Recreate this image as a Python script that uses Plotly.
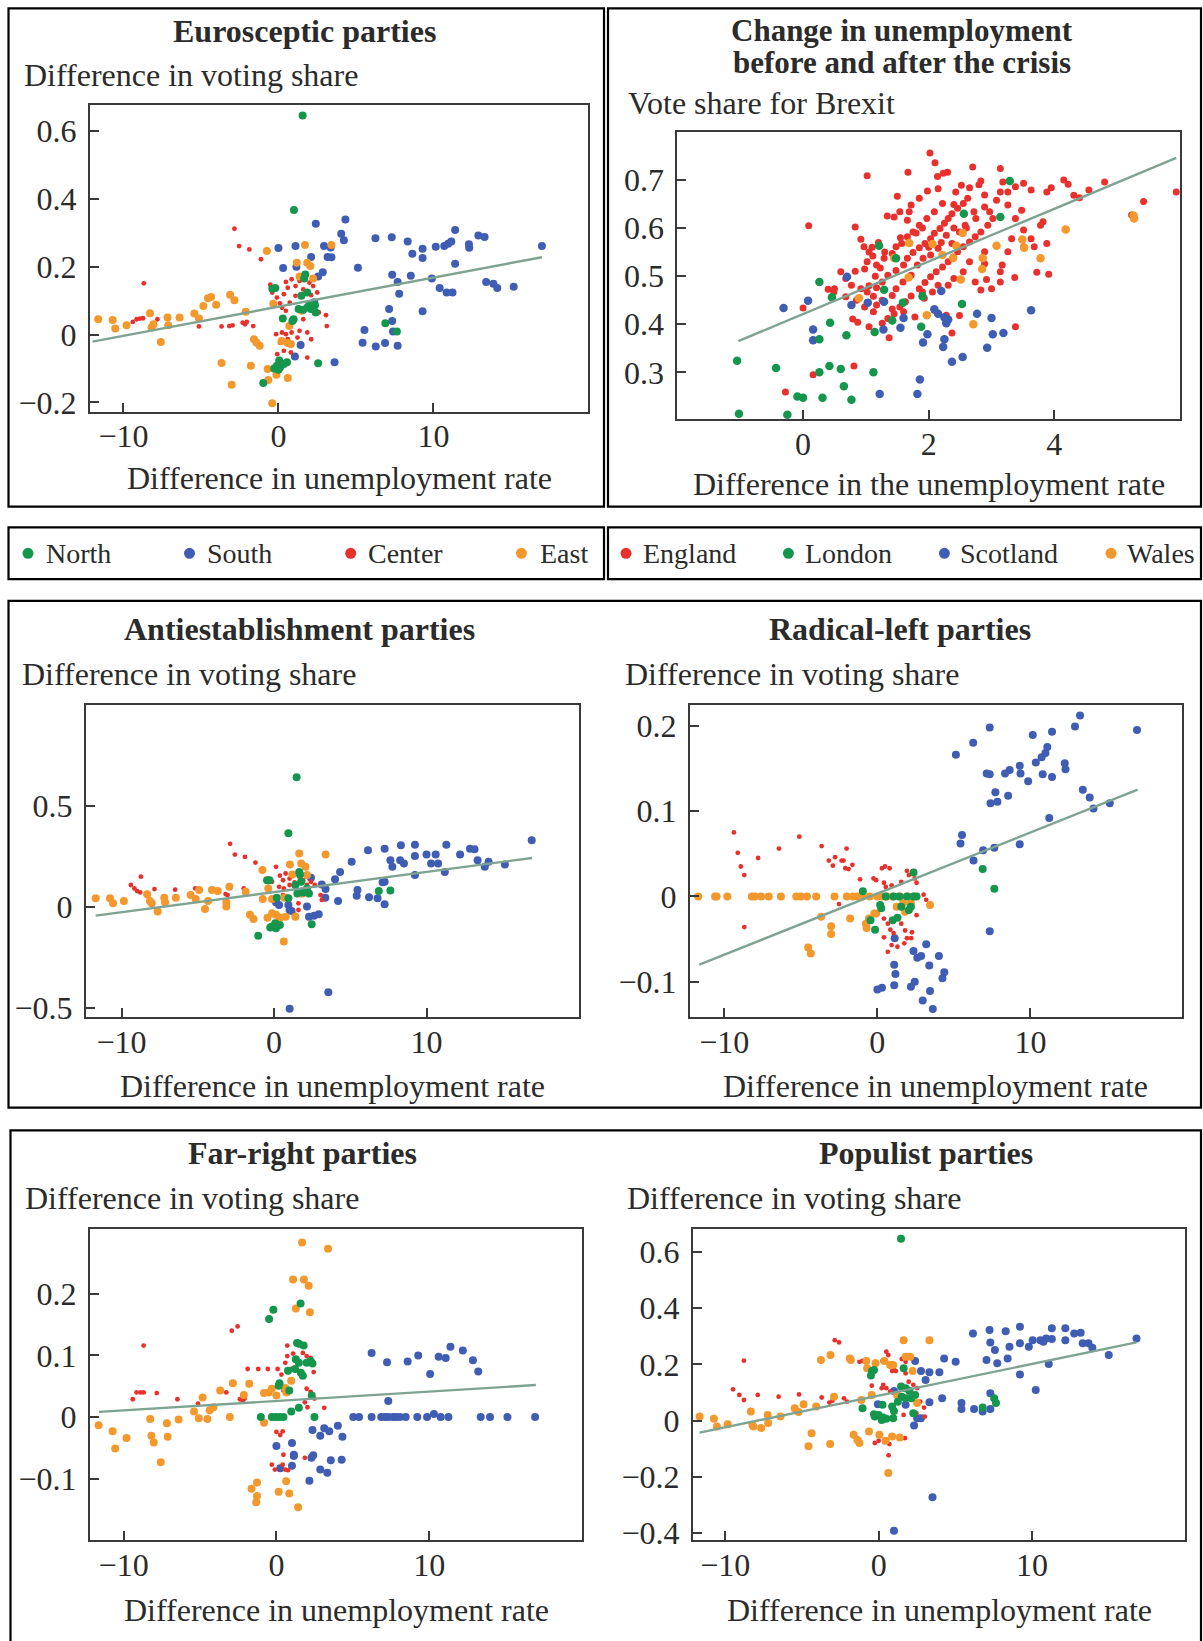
import plotly.graph_objects as go

W, H = 1203, 1641

# ---------------- colours ----------------
GREEN = "#14964c"
BLUE = "#3f5db3"
RED = "#e8302c"
ORANGE = "#f3982c"
LINE = "#7fa392"

# ---------------- tick labels ----------------
x_ticks_main = [-10, 0, 10]
x_ticklabels_main = ["\u221210", "0", "10"]
euro_yticks = [-0.2, 0, 0.2, 0.4, 0.6]
euro_yticklabels = ["\u22120.2", "0", "0.2", "0.4", "0.6"]
brexit_xticks = [0, 2, 4]
brexit_xticklabels = ["0", "2", "4"]
brexit_yticks = [0.3, 0.4, 0.5, 0.6, 0.7]
brexit_yticklabels = ["0.3", "0.4", "0.5", "0.6", "0.7"]
anti_yticks = [-0.5, 0, 0.5]
anti_yticklabels = ["\u22120.5", "0", "0.5"]
radical_yticks = [-0.1, 0, 0.1, 0.2]
radical_yticklabels = ["\u22120.1", "0", "0.1", "0.2"]
far_yticks = [-0.1, 0, 0.1, 0.2]
far_yticklabels = ["\u22120.1", "0", "0.1", "0.2"]
pop_yticks = [-0.4, -0.2, 0, 0.2, 0.4, 0.6]
pop_yticklabels = ["\u22120.4", "\u22120.2", "0", "0.2", "0.4", "0.6"]

# ---------------- Eurosceptic parties ----------------
euro_north = [(1.56,0.646),(1.0,0.367),(-0.4,0.135),(-0.2,0.137),(1.73,0.177),(1.66,0.165),(1.86,0.124),(1.48,0.114),
    (1.3,0.075),(1.6,0.073),(2.0,0.089),(2.36,0.086),(2.1,0.075),(1.86,0.08),(2.4,0.065),(0.28,0.047),(0.98,0.045),(0.9,0.04),
    (6.9,0.033),(7.64,0.009),(0.05,-0.077),(-0.1,-0.092),(-0.28,-0.1),(0.1,-0.097),(0.35,-0.087),(0.55,-0.082),(0.0,-0.104),
    (2.56,-0.085),(-0.98,-0.143)]
euro_south = [(0,0.255),(1.1,0.261),(2.41,0.327),(2.94,0.261),(3.37,0.257),(4.32,0.339),(4.05,0.297),(4.22,0.278),(3.17,0.229),
    (3.42,0.228),(2.11,0.229),(0.3,0.196),(1.16,0.2),(2.86,0.184),(2.56,0.171),(5.13,0.197),(6.26,0.284),(7.31,0.287),(8.34,0.274),
    (9.3,0.253),(8.64,0.238),(9.3,0.226),(7.34,0.176),(8.54,0.173),(7.69,0.155),(7.79,0.12),(7.14,0.075),(7.34,0.04),(9.3,0.069),
    (9.9,0.165),(10.15,0.259),(10.7,0.261),(10.95,0.268),(11.15,0.274),(11.4,0.308),(11.4,0.209),(10.4,0.137),(10.85,0.124),
    (11.23,0.124),(12.29,0.266),(12.31,0.256),(12.9,0.292),(13.3,0.288),(13.4,0.155),(13.87,0.15),(14.12,0.137),(15.18,0.141),
    (17.0,0.261),(5.55,0.013),(7.39,0.009),(5.43,-0.024),(6.28,-0.035),(6.88,-0.025),(7.69,-0.033),(1.06,-0.065),(1.43,-0.031),
    (3.62,-0.082),(2.31,0.095)]
euro_center = [(-2.84,0.312),(-2.54,0.261),(-1.88,0.251),(-1.13,0.222),(-8.69,0.151),(-9.15,0.045),(-8.94,0.047),(-8.74,0.048),
    (-9.4,0.037),(-7.81,0.045),(-5.13,0.024),(-3.67,0.024),(-3.17,0.025),(-2.96,0.027),(-2.31,0.035),(-2.16,0.03),(-2.04,0.037),
    (-1.63,0.025),(-0.53,0.147),(-0.4,0.124),(-0.1,0.109),(0.1,0.092),(0.35,0.119),(0.48,0.155),(0.6,0.138),(0.85,0.163),
    (1.1,0.143),(1.36,0.158),(1.6,0.133),(2.0,0.153),(2.24,0.143),(2.5,0.124),(2.11,0.116),(1.1,0.114),(0.73,0.094),(0.48,0.07),
    (0.23,0.079),(-0.15,0.001),(0.23,0.006),(0.48,0.001),(0.85,0.006),(0.6,-0.014),(0.1,-0.024),(0.35,-0.048),(0.8,-0.053),
    (1.86,-0.068),(2.11,-0.014),(1.23,-0.009),(1.36,0.011),(1.86,0.006),(3.07,0.057),(3.12,0.025),(2.61,0.065),(1.6,0.045),
    (-0.08,-0.058)]
euro_east = [(-11.63,0.045),(-10.7,0.043),(-10.53,0.018),(-9.8,0.027),(-8.29,0.063),(-8.19,0.021),(-8.07,0.03),(-7.59,-0.022),
    (-7.16,0.05),(-7.11,0.027),(-6.38,0.05),(-5.43,0.062),(-5.13,0.047),(-4.85,0.084),(-4.55,0.107),(-4.35,0.111),(-4.02,0.088),
    (-3.12,0.117),(-2.84,0.101),(-2.11,0.067),(-0.75,0.246),(1.71,0.264),(3.42,0.264),(1.18,0.212),(1.86,0.212),(2.06,0.202),
    (2.24,0.165),(1.36,0.171),(-0.33,0.091),(0.7,0.025),(-1.58,-0.014),(-1.41,-0.024),(-1.21,-0.033),(-3.67,-0.084),(-1.78,-0.092),
    (-3.02,-0.148),(-0.7,-0.102),(-0.65,-0.134),(-0.13,-0.119),(0.6,-0.128),(0.2,-0.019),(0.6,-0.025),(0.8,-0.028),(-0.4,-0.203),
    (1.5,0.07)]
euro_fit_x = [-12.0, 17.0]
euro_fit_y = [-0.021, 0.228]

# ---------------- Brexit ----------------
brexit_england = [(2.02,0.756),(2.1,0.736),(1.67,0.716),(1.02,0.709),(2.14,0.707),(2.23,0.714),(2.3,0.716),(2.7,0.727),(3.14,0.724),
    (3.18,0.696),(2.83,0.698),(2.8,0.69),(2.65,0.684),(2.43,0.675),(1.98,0.677),(1.5,0.666),(1.85,0.662),(1.72,0.648),(1.69,0.634),
    (1.34,0.625),(1.45,0.623),(0.09,0.605),(0.83,0.602),(0.92,0.577),(0.97,0.561),(1.05,0.55),(1.11,0.542),(1.02,0.53),(1.17,0.523),
    (1.23,0.517),(0.98,0.515),(0.83,0.51),(0.6,0.509),(0.68,0.495),(0.77,0.481),(0.92,0.474),(1.02,0.467),(1.12,0.458),(1.17,0.476),
    (1.26,0.488),(1.35,0.502),(1.48,0.512),(1.6,0.523),(1.66,0.537),(1.75,0.549),(1.85,0.559),(1.94,0.568),(2.03,0.578),(2.09,0.589),
    (2.18,0.599),(2.25,0.61),(2.31,0.62),(2.37,0.63),(2.46,0.641),(2.55,0.651),(2.62,0.662),(2.72,0.634),(2.89,0.644),(2.97,0.634),
    (3.02,0.62),(2.94,0.606),(2.83,0.592),(2.74,0.582),(2.65,0.571),(2.55,0.561),(2.46,0.551),(2.39,0.54),(2.31,0.53),(2.22,0.519),
    (2.12,0.509),(2.03,0.499),(1.94,0.487),(1.85,0.474),(1.72,0.459),(1.63,0.447),(1.54,0.436),(1.45,0.422),(1.35,0.412),(1.26,0.402),
    (1.37,0.372),(1.12,0.426),(0.98,0.436),(0.85,0.45),(0.68,0.457),(0.49,0.467),(0.4,0.473),(0.5,0.474),(0.0,0.434),(0.79,0.411),
    (0.87,0.404),(1.05,0.395),(0.81,0.313),(0.16,0.295),(-0.28,0.259),(1.93,0.454),(2.09,0.429),(2.28,0.419),(2.37,0.382),(2.49,0.418),
    (3.38,0.395),(3.37,0.497),(3.72,0.508),(3.91,0.504),(3.88,0.568),(3.68,0.561),(3.82,0.613),(3.78,0.606),(3.51,0.596),(3.38,0.62),
    (3.48,0.637),(3.26,0.648),(3.26,0.675),(3.38,0.686),(3.51,0.693),(3.63,0.679),(3.88,0.675),(3.95,0.684),(4.15,0.7),(4.22,0.691),
    (4.31,0.668),(4.4,0.663),(4.55,0.679),(4.8,0.696),(5.42,0.655),(5.94,0.675),(5.23,0.627),(3.26,0.551),(3.17,0.523),(3.14,0.509),
    (2.92,0.493),(3.14,0.488),(3.0,0.474),(2.74,0.488),(2.83,0.471),(2.89,0.551),(2.89,0.526),(2.65,0.53),(2.55,0.509),(2.4,0.495),
    (2.31,0.481),(2.15,0.481),(2.06,0.467),(1.91,0.537),(1.82,0.523),(1.72,0.502),(1.59,0.488),(1.48,0.474),(1.42,0.46),(1.26,0.45),
    (1.17,0.44),(1.42,0.432),(1.6,0.426),(1.78,0.415),(1.9,0.467),(2.28,0.585),(2.37,0.568),(2.15,0.558),(2.03,0.544),(2.49,0.592),
    (2.58,0.606),(2.4,0.649),(2.22,0.651),(2.09,0.634),(1.97,0.62),(1.85,0.606),(1.75,0.592),(1.66,0.582),(1.57,0.568),(1.48,0.561),
    (1.42,0.547),(1.29,0.537),(2.89,0.669),(3.08,0.658),(3.14,0.675),(2.52,0.689),(2.15,0.682),(1.54,0.634),(1.66,0.616),(3.51,0.561),
    (3.63,0.578),(3.32,0.578),(1.1,0.56),(1.2,0.57),(1.3,0.55),(1.55,0.58),(1.8,0.59),(2.0,0.56),(2.6,0.6),(2.75,0.62),(1.05,0.48),
    (1.15,0.5),(1.9,0.6),(2.2,0.57),(2.4,0.6)]
brexit_london = [(1.21,0.563),(3.29,0.698),(2.56,0.63),(3.14,0.623),(1.48,0.537),(0.26,0.488),(0.46,0.456),(1.29,0.472),(1.9,0.458),
    (1.59,0.445),(2.53,0.442),(0.43,0.403),(1.42,0.408),(1.14,0.384),(0.69,0.377),(1.88,0.395),(0.26,0.369),(-1.05,0.324),(-0.43,0.309),
    (0.42,0.313),(0.6,0.307),(0.26,0.3),(1.12,0.3),(0.65,0.271),(-0.09,0.25),(0.0,0.247),(0.31,0.247),(0.77,0.243),(-1.02,0.214),
    (-0.25,0.212)]
brexit_scotland = [(0.7,0.499),(0.08,0.449),(-0.31,0.434),(0.77,0.44),(1.03,0.445),(1.29,0.447),(2.2,0.469),(2.09,0.431),(2.15,0.422),
    (2.25,0.414),(2.31,0.41),(2.28,0.402),(1.6,0.413),(1.55,0.393),(1.28,0.389),(0.16,0.389),(0.16,0.367),(1.98,0.379),(1.91,0.362),
    (2.25,0.369),(2.23,0.353),(2.77,0.422),(3.0,0.413),(3.02,0.379),(3.19,0.382),(2.93,0.351),(3.63,0.429),(2.54,0.332),(2.37,0.322),
    (1.86,0.285),(1.82,0.255),(1.22,0.255)]
brexit_wales = [(1.69,0.569),(1.45,0.538),(1.68,0.497),(2.06,0.567),(2.22,0.544),(2.39,0.538),(2.44,0.563),(2.54,0.59),(2.86,0.538),
    (2.85,0.515),(2.51,0.493),(3.08,0.563),(3.49,0.576),(3.52,0.559),(3.78,0.537),(4.18,0.597),(5.27,0.62),(5.26,0.626),(0.89,0.454),
    (1.97,0.419),(2.71,0.4)]
brexit_fit_x = [-1.03, 5.94]
brexit_fit_y = [0.365, 0.746]

# ---------------- Antiestablishment parties ----------------
anti_north = [(1.48,0.643),(0.94,0.365),(-0.46,0.133),(-0.3,0.133),(1.65,0.174),(1.7,0.161),(1.4,0.109),(1.78,0.125),(2.16,0.092),
    (2.29,0.067),(1.91,0.072),(1.53,0.067),(0.94,0.043),(0.18,0.046),(6.87,0.079),(7.63,0.082),(-0.13,-0.097),(0.13,-0.105),
    (0.38,-0.089),(0.08,-0.081),(-0.25,-0.102),(2.47,-0.086),(-1.04,-0.143)]
anti_south = [(16.9,0.331),(6.16,0.281),(7.25,0.289),(8.32,0.306),(9.24,0.309),(10.0,0.26),(10.6,0.26),(11.3,0.309),(12.85,0.289),
    (13.15,0.286),(12.2,0.26),(8.27,0.232),(8.52,0.215),(9.24,0.253),(7.63,0.232),(7.76,0.199),(10.3,0.215),(10.76,0.215),
    (13.35,0.232),(14.07,0.224),(13.82,0.199),(15.14,0.211),(11.2,0.174),(9.24,0.158),(5.09,0.224),(4.33,0.174),(4.0,0.138),
    (7.25,0.125),(7.12,0.122),(5.47,0.084),(5.42,0.056),(6.23,0.048),(6.79,0.043),(7.25,0.013),(4.2,0.03),(3.38,0.089),(3.36,0.046),
    (3.13,0.112),(2.42,0.145),(2.16,0.003),(2.29,-0.049),(2.62,-0.043),(2.93,-0.036),(0.94,0.01),(1.02,-0.015),(1.15,-0.02),
    (0.13,0.023),(0.33,0.01),(3.56,-0.423),(1.02,-0.505)]
anti_center = [(-2.88,0.313),(-2.57,0.26),(-1.91,0.248),(-1.22,0.22),(-8.73,0.15),(-9.39,0.109),(-9.16,0.092),(-8.98,0.079),
    (-8.78,0.072),(-7.84,0.089),(-6.49,0.086),(-5.17,0.092),(-3.18,0.064),(-3.05,0.059),(-1.99,0.092),(-1.91,0.067),(0.13,0.199),
    (0.38,0.155),(0.59,0.133),(0.76,0.166),(1.02,0.141),(1.35,0.122),(1.65,0.15),(1.91,0.133),(2.16,0.109),(2.42,0.125),(2.67,0.109),
    (0.33,0.1),(0.64,0.092),(1.02,0.109),(0.59,0.059),(0.89,0.051),(1.6,0.018),(1.6,-0.015),(1.4,-0.039),(1.78,0.059),(3.05,0.059),
    (3.13,0.035),(-0.13,0.125)]
anti_east = [(-11.7,0.043),(-10.76,0.043),(-10.56,0.018),(-9.85,0.03),(-8.32,0.063),(-8.14,0.03),(-8.02,0.018),(-7.63,-0.023),
    (-7.2,0.046),(-7.15,0.023),(-6.44,0.046),(-5.47,0.059),(-5.14,0.039),(-4.91,0.084),(-4.53,-0.01),(-4.33,0.03),(-4.07,0.084),
    (-3.69,0.079),(-3.13,0.023),(-3.13,0.002),(-2.93,0.1),(-1.86,0.076),(-0.76,0.183),(-0.38,0.133),(-0.38,0.092),(-0.74,0.039),
    (-0.13,0.039),(0.69,0.046),(1.04,0.211),(1.65,0.265),(3.38,0.26),(1.78,0.215),(2.06,0.199),(2.16,0.158),(1.2,0.161),(1.86,0.067),
    (-1.58,-0.039),(-1.35,-0.059),(-0.43,-0.053),(-0.13,-0.031),(0.13,-0.039),(0.38,-0.053),(0.76,-0.048),(1.4,-0.048),(0.64,-0.171)]
anti_fit_x = [-11.7, 16.92]
anti_fit_y = [-0.043, 0.243]

# ---------------- Radical-left parties ----------------
radical_north = [(2.36,0.028),(6.88,0.032),(7.64,0.009),(-0.95,0.006),(0.18,-0.01),(0.25,-0.014),(-0.45,-0.028),(-0.15,-0.039),
    (1.0,-0.028),(1.31,-0.025),(1.56,-0.012),(2.06,-0.016),(2.19,-0.012),(0.55,0),(1.06,0),(1.43,0),(1.93,0),(2.36,0),(2.56,0)]
radical_south = [(7.34,0.198),(6.26,0.18),(5.13,0.166),(10.15,0.189),(11.41,0.193),(13.24,0.212),(12.91,0.199),(16.96,0.195),
    (11.1,0.175),(10.98,0.168),(10.73,0.163),(10.35,0.157),(12.24,0.156),(12.29,0.149),(9.3,0.153),(9.35,0.144),(8.64,0.148),
    (8.34,0.144),(7.14,0.144),(7.34,0.143),(10.8,0.143),(11.41,0.14),(9.85,0.135),(7.71,0.122),(8.54,0.118),(7.84,0.111),(7.39,0.109),
    (13.42,0.125),(13.87,0.116),(14.12,0.103),(15.18,0.109),(11.23,0.092),(5.53,0.072),(5.43,0.062),(9.3,0.061),(6.91,0.054),
    (7.64,0.057),(6.28,0.042),(7.34,-0.041),(1.13,-0.049),(2.36,-0.064),(3.19,-0.056),(2.61,-0.072),(2.86,-0.07),(4.02,-0.07),
    (1.1,-0.08),(3.39,-0.081),(1.18,-0.091),(4.37,-0.089),(4.25,-0.096),(0.0,-0.109),(0.3,-0.107),(1.1,-0.104),(2.44,-0.1),
    (2.19,-0.106),(3.44,-0.111),(2.96,-0.122),(3.62,-0.132)]
radical_center = [(-9.37,0.075),(-9.12,0.051),(-8.92,0.035),(-8.69,0.025),(-7.79,0.045),(-6.43,0.056),(-5.1,0.07),(-3.64,0.059),
    (-3.17,0.042),(-2.91,0.036),(-2.76,0.046),(-2.34,0.042),(-2.21,0.042),(-2.01,0.056),(-2.09,0.033),(-1.88,0.032),(-1.63,0.037),
    (-1.13,0.02),(-0.25,0.021),(-0.08,0.019),(0.3,0.033),(0.5,0.035),(0.8,0.033),(0.43,0.016),(0.55,0.011),(0.93,0.013),(1.56,0.017),
    (1.93,0.03),(2.06,0.025),(2.44,0.021),(2.56,0.016),(3.02,0.002),(3.19,-0.004),(-2.51,-0.009),(-8.69,-0.036),(0.43,-0.026),
    (0.68,-0.032),(0.85,-0.039),(1.06,-0.043),(0.43,-0.048),(0.93,-0.057),(0.68,-0.065),(1.31,-0.059),(1.76,-0.055),(1.93,-0.049),
    (1.81,-0.04),(2.26,-0.042),(2.21,-0.049),(2.56,-0.022),(1.56,-0.032)]
radical_east = [(-11.7,0),(-10.6,0),(-10.5,0),(-9.8,0),(-8.2,0),(-8.0,0),(-7.6,0),(-7.1,0),(-6.3,0),(-5.3,0),(-5.0,0),(-4.6,0),
    (-4.0,0),(-2.8,0),(-2.0,0),(-1.6,0),(-1.3,0),(-1.0,0),(-0.5,0),(0,0),(0.3,0),(0.6,0),(1.0,0),(1.5,0),(2.0,0),(2.4,0),
    (3.44,-0.01),(-3.67,-0.024),(-1.78,-0.026),(-3.02,-0.035),(-3.02,-0.044),(-0.75,-0.032),(-0.7,-0.037),(-0.55,-0.026),
    (-0.2,-0.02),(-0.08,-0.02),(-4.52,-0.06),(-4.35,-0.067),(1.68,-0.008),(1.26,-0.012),(1.81,-0.018),(2.19,-0.008)]
radical_fit_x = [-11.63, 17.0]
radical_fit_y = [-0.08, 0.125]

# ---------------- Far-right parties ----------------
far_north = [(-0.2,0.174),(-0.48,0.159),(1.58,0.184),(1.35,0.12),(1.47,0.119),(1.78,0.116),(1.27,0.094),(1.47,0.088),(1.98,0.088),
    (2.24,0.091),(2.36,0.087),(1.22,0.078),(1.6,0.072),(1.73,0.067),(0.76,0.075),(0.2,0.055),(0.15,0.051),(0.84,0.043),(2.31,0.035),
    (1.47,0.015),(0.97,0.009),(-1.02,0),(-0.3,0),(-0.05,0),(0.2,0),(0.46,0),(2.49,0)]
far_south = [(6.23,0.104),(7.24,0.089),(8.59,0.09),(9.28,0.1),(10.06,0.07),(10.62,0.098),(11.08,0.096),(11.39,0.114),(12.2,0.108),
    (12.86,0.092),(13.21,0.074),(7.32,0.026),(5.03,0),(5.41,0),(6.23,0),(6.86,0),(7.12,0),(7.32,0),(7.62,0),(7.83,0),(8.08,0),
    (8.46,0),(9.22,0),(9.86,0),(10.31,0.005),(10.75,0),(11.26,0),(13.37,0),(13.98,0),(15.12,0),(16.93,0),(2.36,-0.021),
    (2.87,-0.03),(3.13,-0.018),(3.46,-0.023),(4.02,-0.014),(4.32,-0.032),(0,-0.047),(1.02,-0.042),(1.14,-0.061),(1.14,-0.063),
    (2.41,-0.062),(2.29,-0.066),(3.56,-0.07),(4.27,-0.069),(1.02,-0.079),(0.25,-0.083),(2.87,-0.085),(3.33,-0.09),(2.16,-0.103)]
far_center = [(-8.69,0.116),(-9.4,0.029),(-9.15,0.04),(-8.89,0.04),(-8.69,0.04),(-7.83,0.039),(-6.48,0.029),(-5.13,0.022),
    (-2.92,0.14),(-2.54,0.147),(-3.28,0.04),(-2.39,0.029),(-2.19,0.026),(-2.08,0.03),(-1.88,0.078),(-1.19,0.078),(-0.56,0.078),
    (0.08,0.078),(0.71,0.116),(0.71,0.099),(1.09,0.103),(0.33,0.069),(0.58,0.088),(0.97,0.078),(1.73,0.104),(1.98,0.099),
    (2.24,0.096),(2.44,0.073),(0.2,0.051),(0.46,0.043),(1.98,0.046),(2.24,0.041),(1.86,0.024),(2.03,0.016),(3.13,0.015),
    (2.49,0.03),(0,-0.024),(0.25,-0.029),(0.41,-0.023),(-0.3,-0.077),(-0.1,-0.085),(0.41,-0.077),(0.58,-0.085),(0.76,-0.086),
    (0.46,-0.061),(1.86,-0.066)]
far_east = [(1.68,0.283),(3.38,0.273),(1.09,0.223),(1.8,0.223),(2.11,0.213),(1.27,0.176),(2.19,0.17),(-11.64,-0.013),
    (-10.72,-0.023),(-10.55,-0.051),(-9.81,-0.034),(-8.26,-0.003),(-8.18,-0.03),(-8.03,-0.041),(-7.57,-0.073),(-7.17,-0.01),
    (-7.12,-0.032),(-6.4,-0.004),(-5.39,0.009),(-5.08,-0.002),(-4.83,0.032),(-4.52,-0.003),(-4.37,0.011),(-4.12,0.016),
    (-3.68,0.043),(-3.05,0),(-2.85,0.055),(-2.13,0.036),(-1.78,0.054),(-0.81,0.039),(-0.51,0.04),(-0.3,0.046),(0,0.035),
    (0.58,0.047),(0.97,0.059),(0.66,0.04),(-0.81,-0.009),(-1.63,-0.116),(-1.27,-0.106),(-1.27,-0.128),(-1.32,-0.138),
    (0.15,-0.121),(0.64,-0.104),(0.84,-0.124),(1.42,-0.146)]
far_fit_x = [-11.61, 16.98]
far_fit_y = [0.0085, 0.052]

# ---------------- Populist parties ----------------
pop_north = [(1.46,0.647),(-0.43,0.176),(-0.3,0.18),(-0.5,0.16),(1.63,0.186),(1.46,0.121),(1.76,0.115),(2.01,0.105),(1.51,0.085),
    (1.76,0.079),(2.13,0.079),(2.38,0.091),(1.25,0.067),(-1.05,0.044),(0.25,0.056),(0.88,0.05),(1.0,0.034),(-0.3,0.022),
    (-0.25,0.014),(0,0.02),(0.3,0.011),(0.5,0.006),(0.2,0.002),(0.95,0.008),(2.26,0.026),(6.78,0.046),(7.53,0.079),(7.65,0.062)]
pop_south = [(6.15,0.31),(7.23,0.322),(8.28,0.318),(9.21,0.334),(7.28,0.278),(7.58,0.251),(8.53,0.263),(9.21,0.275),(9.79,0.263),
    (10.04,0.286),(10.54,0.286),(10.74,0.28),(10.92,0.292),(11.29,0.328),(11.29,0.29),(12.17,0.328),(12.17,0.286),(12.75,0.31),
    (13.17,0.312),(13.3,0.275),(13.68,0.275),(13.93,0.259),(15.0,0.233),(16.81,0.292),(11.09,0.201),(9.21,0.164),(10.24,0.109),
    (7.03,0.215),(7.73,0.204),(8.41,0.221),(7.28,0.097),(4.27,0.221),(5.02,0.209),(2.38,0.212),(2.76,0.176),(3.31,0.172),
    (3.96,0.172),(3.06,0.144),(4.14,0.079),(3.31,0.065),(5.4,0.062),(5.4,0.041),(6.22,0.041),(6.78,0.032),(7.28,0.041),
    (2.51,0.008),(2.76,0.008),(2.31,-0.018),(1.0,0.105),(-0.05,0.058),(3.51,-0.273),(1.0,-0.392),(1.76,0.056)]
pop_center = [(-2.86,0.286),(-2.58,0.278),(-8.78,0.213),(-9.49,0.111),(-9.08,0.091),(-8.78,0.073),(-7.88,0.091),(-6.52,0.085),
    (-5.19,0.093),(-3.71,0.082),(-3.21,0.064),(-3.01,0.07),(-2.26,0.079),(-2.06,0.067),(-1.25,0.209),(-1.05,0.212),(-0.75,0.207),
    (-0.25,0.209),(0.25,0.212),(0.5,0.245),(0.63,0.233),(1.0,0.183),(0.88,0.176),(1.13,0.176),(1.51,0.219),(1.76,0.209),
    (1.76,0.168),(0.3,0.127),(0.2,0.115),(0.5,0.115),(0.75,0.103),(-0.45,0.124),(1.96,0.138),(1.88,0.115),(2.26,0.127),
    (2.51,0.115),(2.01,0.079),(2.71,0.067),(2.96,0.046),(3.01,0.014),(2.46,0.026),(1.63,0.02),(-0.25,-0.08),(0,-0.072),
    (0.55,-0.069),(0.7,-0.084),(0.38,-0.077),(1.71,-0.063),(0.65,-0.124)]
pop_east = [(-11.67,0.014),(-10.74,0.006),(-10.54,-0.021),(-9.84,-0.013),(-8.33,0.032),(-8.23,-0.015),(-8.16,-0.021),
    (-7.65,-0.027),(-7.23,0.02),(-7.2,-0.009),(-6.4,0.014),(-5.47,0.044),(-5.22,0.03),(-4.89,0.058),(-4.37,-0.045),(-4.57,-0.092),
    (-3.76,0.215),(-3.14,0.233),(-3.16,-0.084),(-4.07,0.05),(-2.91,0.085),(-1.88,0.221),(-1.81,0.215),(-1.63,-0.051),
    (-1.38,-0.069),(-1.25,-0.08),(-1.13,0.073),(-0.8,0.212),(-0.75,0.186),(-0.63,-0.039),(-0.45,0.091),(-0.2,0.204),
    (0.05,-0.051),(0.38,0.212),(0.45,-0.072),(0.63,-0.187),(0.75,0.198),(0.88,-0.057),(0.95,0.198),(1.2,0.091),(1.38,-0.06),
    (1.63,0.286),(1.76,0.227),(2.06,0.227),(2.21,0.176),(3.31,0.286),(2.51,0.062)]
pop_fit_x = [-11.67, 16.81]
pop_fit_y = [-0.043, 0.278]

# ---------------- layout helpers (pixel -> paper) ----------------
def px(x):
    return x / W

def py(y):
    return 1 - y / H

FONT = "Liberation Serif"
TXT = "#2b2b2b"
AX = "#3a3a3a"

fig = go.Figure()

panels = [
    ("", (90, 588.4), (105.7, 414.6), [-12.16, 20.0], [-0.228, 0.677], x_ticks_main, x_ticklabels_main, euro_yticks, euro_yticklabels),
    ("2", (677.4, 1180), (133, 422), [-2.0, 6.0], [0.2027, 0.7995], brexit_xticks, brexit_xticklabels, brexit_yticks, brexit_yticklabels),
    ("3", (85.9, 579), (710, 1024), [-12.34, 20.0], [-0.546, 1.0], x_ticks_main, x_ticklabels_main, anti_yticks, anti_yticklabels),
    ("4", (690, 1182), (710, 1024), [-12.24, 19.9], [-0.1415, 0.224], x_ticks_main, x_ticklabels_main, radical_yticks, radical_yticklabels),
    ("5", (90, 582), (1237.5, 1550.6), [-12.2, 20.0], [-0.1995, 0.3046], x_ticks_main, x_ticklabels_main, far_yticks, far_yticklabels),
    ("6", (693, 1185), (1237.5, 1550.6), [-12.1, 19.97], [-0.426, 0.681], x_ticks_main, x_ticklabels_main, pop_yticks, pop_yticklabels),
]

layout_axes = {}
for suf, (x0, x1), (y0, y1), xr, yr, xt, xtl, yt, ytl in panels:
    common = dict(showline=True, mirror=True, linecolor=AX, linewidth=2, showgrid=False, zeroline=False,
                  ticks="inside", ticklen=9, tickwidth=2, tickcolor=AX,
                  tickfont=dict(family=FONT, size=32, color=TXT))
    layout_axes["xaxis" + suf] = dict(common, domain=[px(x0), px(x1)], range=xr, tickvals=xt, ticktext=xtl,
                                      anchor="y" + suf, ticklabelstandoff=-5)
    layout_axes["yaxis" + suf] = dict(common, domain=[py(y1), py(y0)], range=yr, tickvals=yt, ticktext=ytl,
                                      anchor="x" + suf, ticklabelstandoff=5)


def add_group(points, color, size, suf):
    fig.add_trace(go.Scatter(x=[p[0] for p in points], y=[p[1] for p in points], mode="markers",
                             marker=dict(color=color, size=size, line=dict(width=0)),
                             xaxis="x" + suf, yaxis="y" + suf, showlegend=False, hoverinfo="skip"))


def add_fit(xs, ys, suf):
    fig.add_trace(go.Scatter(x=xs, y=ys, mode="lines", line=dict(color=LINE, width=2.4),
                             xaxis="x" + suf, yaxis="y" + suf, showlegend=False, hoverinfo="skip"))

BIG, SMALL = 8, 4.8

add_group(euro_south, BLUE, BIG, "")
add_group(euro_center, RED, SMALL, "")
add_group(euro_east, ORANGE, BIG, "")
add_group(euro_north, GREEN, BIG, "")
add_fit(euro_fit_x, euro_fit_y, "")

add_group(brexit_england, RED, 7, "2")
add_group(brexit_wales, ORANGE, 8.5, "2")
add_group(brexit_scotland, BLUE, 8.5, "2")
add_group(brexit_london, GREEN, 8.5, "2")
add_fit(brexit_fit_x, brexit_fit_y, "2")

add_group(anti_south, BLUE, BIG, "3")
add_group(anti_center, RED, SMALL, "3")
add_group(anti_east, ORANGE, BIG, "3")
add_group(anti_north, GREEN, BIG, "3")
add_fit(anti_fit_x, anti_fit_y, "3")

add_group(radical_south, BLUE, BIG, "4")
add_group(radical_center, RED, SMALL, "4")
add_group(radical_east, ORANGE, BIG, "4")
add_group(radical_north, GREEN, BIG, "4")
add_fit(radical_fit_x, radical_fit_y, "4")

add_group(far_south, BLUE, BIG, "5")
add_group(far_center, RED, SMALL, "5")
add_group(far_east, ORANGE, BIG, "5")
add_group(far_north, GREEN, BIG, "5")
add_fit(far_fit_x, far_fit_y, "5")

add_group(pop_south, BLUE, BIG, "6")
add_group(pop_center, RED, SMALL, "6")
add_group(pop_east, ORANGE, BIG, "6")
add_group(pop_north, GREEN, BIG, "6")
add_fit(pop_fit_x, pop_fit_y, "6")

# ---------------- text ----------------
annotations = []

def text(x, y, s, size=32, bold=False, xanchor="center"):
    annotations.append(dict(xref="paper", yref="paper", x=px(x), y=py(y), text=("<b>%s</b>" % s) if bold else s,
                            showarrow=False, xanchor=xanchor, yanchor="middle",
                            font=dict(family=FONT, size=size, color=TXT)))

text(304.7, 31.4, "Eurosceptic parties", bold=True)
text(901.5, 30.5, "Change in unemployment", size=31, bold=True)
text(901.5, 62.5, "before and after the crisis", size=31, bold=True)
text(299.4, 633.4, "Antiestablishment parties", bold=True)
text(900.4, 633.4, "Radical-left parties", bold=True)
text(302.6, 1161, "Far-right parties", bold=True)
text(925.5, 1161, "Populist parties", bold=True)

text(22, 75.4, "Difference in voting share", xanchor="left")
text(626, 103.7, "Vote share for Brexit", xanchor="left")
text(20, 678.5, "Difference in voting share", xanchor="left")
text(623, 678.5, "Difference in voting share", xanchor="left")
text(23, 1206, "Difference in voting share", xanchor="left")
text(625, 1206, "Difference in voting share", xanchor="left")

text(339, 481.6, "Difference in unemployment rate")
text(928.7, 486.9, "Difference in the unemployment rate")
text(332.5, 1093, "Difference in unemployment rate")
text(936, 1093, "Difference in unemployment rate")
text(336, 1621, "Difference in unemployment rate")
text(939, 1621, "Difference in unemployment rate")

legend_left = [("North", GREEN, 28, 44), ("South", BLUE, 189.5, 205), ("Center", RED, 350.7, 366), ("East", ORANGE, 521.4, 538)]
legend_right = [("England", RED, 626, 641), ("London", GREEN, 788.4, 803), ("Scotland", BLUE, 944.4, 958), ("Wales", ORANGE, 1111, 1125)]
shapes = []
for name, col, dx, tx in legend_left + legend_right:
    shapes.append(dict(type="circle", xref="paper", yref="paper", x0=px(dx - 5.5), x1=px(dx + 5.5),
                       y0=py(557 + 5.5), y1=py(557 - 5.5), fillcolor=col, line=dict(width=0)))
    text(tx, 557, name, size=28, xanchor="left")

def frame(x0, y0, x1, y1):
    shapes.append(dict(type="rect", xref="paper", yref="paper", x0=px(x0), x1=px(x1), y0=py(y1), y1=py(y0),
                       line=dict(color="black", width=2.2), fillcolor="rgba(0,0,0,0)"))

frame(8.5, 8.5, 604, 510)
frame(608, 8.5, 1201, 510)
frame(8.5, 531, 604, 583)
frame(608, 531, 1201, 583)
frame(8.5, 605, 1201, 1115)
frame(10.5, 1138, 1201, 1670)

fig.update_layout(width=W, height=H, margin=dict(l=0, r=0, t=0, b=0), paper_bgcolor="white", plot_bgcolor="white",
                  showlegend=False, annotations=annotations, shapes=shapes, **layout_axes)

fig.write_html("out.html")
